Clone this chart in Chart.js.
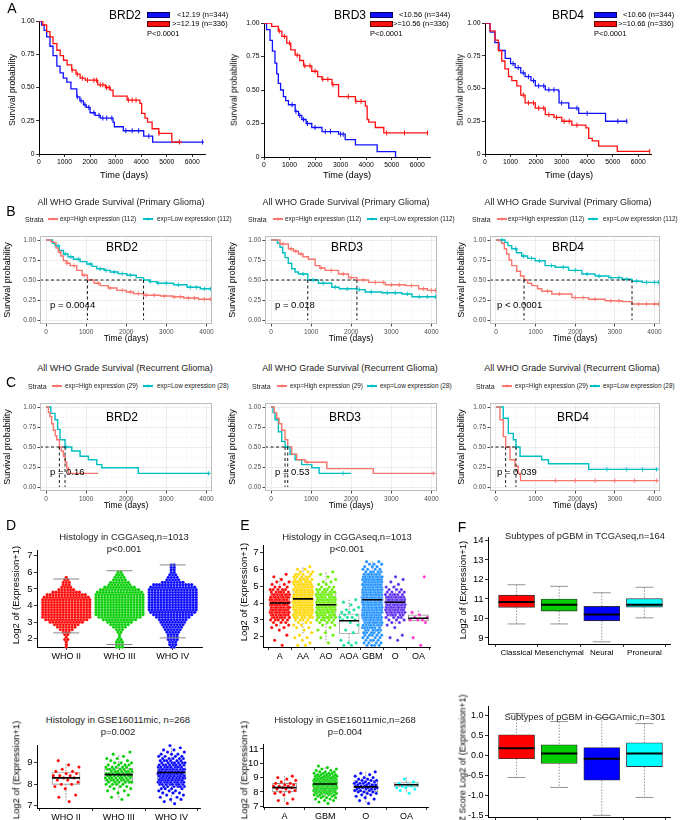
<!DOCTYPE html>
<html><head><meta charset="utf-8">
<script src="https://cdn.jsdelivr.net/npm/chart.js@4.4.1/dist/chart.umd.min.js"></script>
<style>
body{margin:0;background:#fff;width:683px;height:820px;overflow:hidden;font-family:'Liberation Sans',Arial,Helvetica,sans-serif;}
#root{position:relative;width:683px;height:820px;overflow:hidden;}
.t{position:absolute;white-space:nowrap;line-height:1;color:#000;}
canvas{position:absolute;}
</style></head><body><div id="root"></div>
<script>
// ===================== DATA =====================
// ---- Row A : survival (two expression groups) ----
const A_GENES = ['BRD2','BRD3','BRD4'];
const A_LEG_LOW = ['<12.19 (n=344)','<10.56 (n=344)','<10.66 (n=344)'];
const A_LEG_HIGH = ['>=12.19 (n=336)','>=10.56 (n=336)','>=10.66 (n=336)'];
const A_PVAL = ['P<0.0001','P<0.0001','P<0.0001'];
const A_TIME_TICKS = [0,1000,2000,3000,4000,5000,6000];
const A_SURV_TICKS = [0,0.25,0.5,0.75,1];
const A_SURV_LABELS = ['0','0.25','0.50','0.75','1.00'];
// [time, survival]
const A_BRD2_LOW = [[0,1],[100,0.97],[200,0.93],[300,0.88],[430,0.81],[550,0.74],[700,0.66],[825,0.61],[950,0.57],[1090,0.54],[1250,0.49],[1480,0.43],[1600,0.40],[1740,0.37],[1850,0.35],[2000,0.31],[2200,0.29],[2400,0.27],[2900,0.24],[2950,0.205],[3300,0.175],[4100,0.135],[4450,0.09],[6450,0.09]];
const A_BRD2_HIGH = [[0,1],[150,0.97],[300,0.92],[430,0.88],[550,0.83],[700,0.78],[830,0.74],[960,0.705],[1100,0.67],[1280,0.63],[1450,0.60],[1610,0.57],[1810,0.555],[2300,0.52],[2600,0.50],[2790,0.48],[2900,0.435],[3450,0.405],[3950,0.38],[4020,0.305],[4150,0.27],[4250,0.24],[4430,0.19],[4690,0.155],[5200,0.09],[5600,0.09]];
const A_BRD3_LOW = [[0,1],[100,0.95],[236,0.87],[330,0.79],[430,0.70],[500,0.62],[560,0.55],[650,0.50],[760,0.45],[850,0.42],[957,0.39],[1220,0.34],[1350,0.31],[1480,0.28],[1650,0.25],[1870,0.22],[2270,0.19],[2920,0.17],[3180,0.13],[3580,0.09],[4430,0.04],[5150,0],[5180,0]];
const A_BRD3_HIGH = [[0,1],[300,0.975],[560,0.94],[700,0.90],[890,0.85],[1050,0.80],[1220,0.76],[1400,0.72],[1550,0.68],[1870,0.64],[2100,0.60],[2270,0.58],[2660,0.54],[2920,0.45],[3580,0.415],[3970,0.38],[4040,0.28],[4100,0.26],[4360,0.22],[4690,0.18],[6430,0.18]];
const A_BRD4_LOW = [[0,1],[200,0.93],[390,0.85],[550,0.79],[790,0.73],[1000,0.69],[1180,0.66],[1400,0.62],[1570,0.59],[1800,0.56],[1970,0.52],[2360,0.49],[2880,0.48],[2900,0.39],[3280,0.35],[3670,0.31],[4720,0.25],[5570,0.25]];
const A_BRD4_HIGH = [[0,1],[200,0.94],[390,0.87],[520,0.79],[655,0.71],[780,0.65],[920,0.59],[1050,0.56],[1245,0.52],[1400,0.45],[1570,0.39],[1970,0.35],[2360,0.30],[2700,0.28],[3010,0.25],[3400,0.22],[3950,0.20],[4060,0.12],[4200,0.10],[4450,0.06],[5180,0.02],[6460,0.02]];
const A_BRD2_LOW_CENS = [1500,1650,1800,1950,2150,2350,2500,2650,2850,3400,3650,3900,4300,6400];
const A_BRD2_HIGH_CENS = [1300,1500,1700,1900,2150,2250,2400,2500,2650,2750,3500,3650,3800,4700,5500];
const A_BRD3_LOW_CENS = [1100,1250,1400,1550,1700,2000,2400,2600,3000,3100];
const A_BRD3_HIGH_CENS = [600,800,1000,1300,1600,1800,2000,2300,2500,2700,3300,3600,3800,4800,5500,6400];
const A_BRD4_LOW_CENS = [1100,1300,1500,1700,1900,2100,2300,2500,2700,3000,3600,4000,5200,5550];
const A_BRD4_HIGH_CENS = [1500,1700,1900,2100,2300,2500,2800,3100,3300,3600,6450];

// ---- Rows B / C : survival (ggsurvplot) ----
const KM_TIME_TICKS = [0,500,1000,1500,2000,2500,3000,3500,4000];
const KM_TIME_LABELS = ['0','','1000','','2000','','3000','','4000'];
const KM_SURV_TICKS = [0,0.125,0.25,0.375,0.5,0.625,0.75,0.875,1];
const KM_SURV_LABELS = ['0.00','','0.25','','0.50','','0.75','','1.00'];
const B_TITLE = 'All WHO Grade Survival (Primary Glioma)';
const C_TITLE = 'All WHO Grade Survival (Recurrent Glioma)';
const B_LEG = ['exp=High expression (112)','exp=Low expression (112)'];
const C_LEG = ['exp=High expression (29)','exp=Low expression (28)'];
const B_PVAL = ['p = 0.0044','p = 0.018','p < 0.0001'];
const C_PVAL = ['p = 0.16','p = 0.53','p = 0.039'];
const B_BRD2_HIGH = [[0,1],[60,1],[120,0.98],[183,0.97],[250,0.90],[308,0.85],[370,0.80],[433,0.74],[520,0.71],[600,0.68],[767,0.62],[900,0.56],[1033,0.50],[1200,0.46],[1350,0.43],[1550,0.40],[1767,0.37],[2000,0.35],[2183,0.33],[2433,0.31],[2850,0.30],[3150,0.29],[3433,0.275],[3800,0.26],[4150,0.25]];
const B_BRD2_LOW = [[0,1],[100,1],[160,0.96],[225,0.93],[330,0.87],[433,0.825],[550,0.79],[683,0.76],[850,0.73],[1017,0.70],[1150,0.67],[1267,0.64],[1450,0.62],[1600,0.60],[1800,0.58],[2017,0.56],[2250,0.53],[2433,0.50],[2600,0.48],[2767,0.46],[3183,0.44],[3517,0.41],[3850,0.39],[4150,0.39]];
const B_BRD3_HIGH = [[0,1],[100,1],[225,0.95],[433,0.89],[560,0.86],[683,0.825],[800,0.79],[933,0.76],[1100,0.68],[1220,0.65],[1350,0.62],[1683,0.575],[1933,0.53],[2142,0.50],[2433,0.47],[2850,0.44],[3350,0.43],[3683,0.39],[3900,0.37],[4150,0.36]];
const B_BRD3_LOW = [[0,1],[100,1],[160,0.96],[225,0.91],[290,0.84],[350,0.78],[430,0.71],[517,0.64],[600,0.60],[683,0.575],[917,0.50],[1183,0.46],[1517,0.41],[1700,0.39],[2142,0.38],[2350,0.35],[2767,0.34],[3267,0.325],[3517,0.29],[4150,0.285]];
const B_BRD4_HIGH = [[0,1],[80,0.99],[143,0.96],[210,0.89],[270,0.825],[330,0.75],[397,0.68],[523,0.61],[620,0.55],[709,0.50],[800,0.46],[903,0.43],[1050,0.39],[1156,0.36],[1409,0.325],[1916,0.28],[2338,0.26],[2760,0.24],[3181,0.23],[3434,0.20],[4127,0.20]];
const B_BRD4_LOW = [[0,1],[228,0.97],[300,0.93],[397,0.89],[520,0.84],[650,0.80],[800,0.77],[987,0.74],[1240,0.68],[1494,0.66],[1831,0.62],[2169,0.575],[2506,0.55],[2844,0.53],[3181,0.51],[3434,0.485],[3688,0.47],[4127,0.46]];
const B_MEDIANS = [[1033,2433],[2142,917],[709,3434]]; // [high, low]
const B_BRD2_HIGH_CENS = [350,520,700,950,1300,1600,1900,2100,2300,2500,2700,2950,3200,3350,3550,3700,3950,4100];
const B_BRD2_LOW_CENS = [300,480,620,800,1100,1350,1500,1700,1900,2100,2600,2800,3000,3300,3600,3750,3950,4100];
const B_BRD3_HIGH_CENS = [300,500,620,750,1250,1500,1800,2000,2300,2600,2800,3000,3200,3500,3800,4000,4100];
const B_BRD3_LOW_CENS = [800,1050,1300,1600,1900,2200,2500,2900,3100,3400,3700,3900,4100];
const B_BRD4_HIGH_CENS = [1300,1600,2000,2200,2500,2900,3100,3600,3800,4000,4100];
const B_BRD4_LOW_CENS = [150,500,700,900,1100,1400,1700,2000,2300,2600,2900,3100,3300,3550,3800,4000,4100];
const C_BRD2_HIGH = [[0,1],[17,1],[60,0.93],[100,0.88],[140,0.79],[183,0.71],[230,0.64],[267,0.59],[333,0.50],[380,0.45],[433,0.385],[480,0.31],[517,0.24],[560,0.17],[1300,0.17]];
const C_BRD2_LOW = [[0,1],[58,1],[120,0.92],[225,0.84],[290,0.72],[350,0.59],[475,0.50],[642,0.45],[850,0.385],[1058,0.34],[1267,0.28],[1392,0.24],[2267,0.24],[2300,0.17],[4100,0.17]];
const C_BRD3_HIGH = [[0,1],[17,1],[80,0.93],[142,0.86],[200,0.79],[267,0.71],[350,0.59],[417,0.50],[517,0.41],[642,0.34],[850,0.31],[1350,0.31],[1392,0.23],[2517,0.23],[2550,0.17],[4100,0.17]];
const C_BRD3_LOW = [[0,1],[50,0.93],[100,0.84],[183,0.69],[267,0.57],[350,0.50],[475,0.41],[600,0.34],[767,0.28],[1017,0.24],[1183,0.24],[1200,0.17],[2000,0.17]];
const C_BRD4_HIGH = [[0,1],[17,1],[101,0.84],[186,0.63],[245,0.50],[354,0.34],[481,0.26],[560,0.17],[620,0.08],[4100,0.08]];
const C_BRD4_LOW = [[0,1],[59,1],[186,0.86],[312,0.67],[439,0.59],[506,0.50],[608,0.385],[987,0.385],[1156,0.34],[1325,0.29],[2295,0.29],[2340,0.22],[4100,0.22]];
const C_MEDIANS = [[333,475],[417,350],[245,506]];
const C_BRD2_HIGH_CENS = [];
const C_BRD2_LOW_CENS = [500,4050];
const C_BRD3_HIGH_CENS = [900,4050];
const C_BRD3_LOW_CENS = [420,1800];
const C_BRD4_HIGH_CENS = [1500,2000,2500,3000,3500,4050];
const C_BRD4_LOW_CENS = [520,2800,3300,3700,4050];

// ---- Row D/E/F top: CGGAseq / TCGAseq ----
const D1_GROUPS = ['WHO II','WHO III','WHO IV'];
const D1_BIN_START = 1.5, D1_BIN_STEP = 0.15;
const D1_COUNTS_II  = [1,1,1,2,1,2,3,5,7,9,12,15,17,17,17,17,17,17,17,17,16,14,10,6,4,3,3,2,1];
const D1_COUNTS_III = [3,3,3,2,1,1,2,3,5,7,9,12,15,17,17,17,17,17,17,17,17,17,16,14,11,8,7,5,4,3,2];
const D1_COUNTS_IV  = [2,3,3,4,4,4,5,6,7,8,9,10,12,14,16,17,17,17,17,17,17,17,17,17,16,14,8,5,4,3,2,2,2,2];
const D1_WHISK_LO = [2.35,1.65,2.05];
const D1_WHISK_HI = [5.6,6.1,6.45];
const DE1_Y_TICKS = [2,3,4,5,6,7];

const E1_GROUPS = ['A','AA','AO','AOA','GBM','O','OA'];
const E1_BIN_START = 1.5, E1_BIN_STEP = 0.15;
const E1_COUNTS_A   = [1,0,1,0,1,0,1,2,2,3,5,7,9,10,11,11,11,11,10,9,8,6,5,3,2,2,1,1,1,0,0,0,0,0];
const E1_COUNTS_AA  = [2,1,1,2,1,1,1,2,2,3,4,6,8,10,12,13,14,14,14,13,12,11,10,9,8,7,6,5,4,3,2,1,0,0];
const E1_COUNTS_AO  = [0,1,0,1,1,1,1,1,2,3,5,6,7,8,8,8,8,8,8,7,7,6,5,3,2,2,1,1,1,1,0,0,0,0];
const E1_COUNTS_AOA = [2,2,1,0,0,1,1,0,1,1,2,3,2,2,2,1,1,1,1,0,0,0,0,0,0,0,0,0,0,0,0,0,0,0];
const E1_COUNTS_GBM = [4,4,4,4,5,5,6,7,8,9,11,13,15,17,19,20,21,22,22,22,22,21,20,19,18,16,13,10,7,5,4,3,3,2];
const E1_COUNTS_O   = [0,0,1,1,1,0,0,1,1,2,3,4,6,8,10,11,11,10,9,8,6,4,3,2,1,1,1,1,0,0,0,0,0,0];
const E1_COUNTS_OA  = [1,0,0,1,0,0,0,0,0,1,3,2,1,1,0,0,0,0,0,0,0,0,0,0,0,0,0,1,0,0,0,0,0,0];
const E1_LO  = [2.5,2.2,1.7,1.55,1.6,2.75,2.95];
const E1_Q1  = [3.6,3.7,3.15,2.2,3.5,3.75,2.95];
const E1_MED = [4.0,4.25,3.9,2.95,4.2,4.05,3.1];
const E1_Q3  = [4.55,4.75,4.6,3.35,5.0,4.4,3.3];
const E1_HI  = [5.5,6.1,5.8,4.2,6.45,5.05,3.55];

const F_GROUPS = ['Classical','Mesenchymal','Neural','Proneural'];
const F1_LO  = [9.72,9.72,8.8,10.03];
const F1_Q1  = [10.57,10.38,9.88,10.58];
const F1_MED = [10.85,10.7,10.2,10.7];
const F1_Q3  = [11.2,11.0,10.62,11.02];
const F1_HI  = [11.73,11.65,11.32,11.6];
const F1_Y_TICKS = [9,10,11,12,13,14];

// ---- Row D/E/F bottom: GSE16011 / CGGAmic ----
const D2_BIN_START = 7.0, D2_BIN_STEP = 0.1;
const D2_COUNTS_II  = [0,0,1,0,1,1,0,0,1,1,2,1,2,2,3,2,2,1,1,1,0,1,0,0,0,0,0,0,0];
const D2_COUNTS_III = [0,0,0,1,1,1,1,2,2,3,4,6,7,8,8,8,7,6,5,4,3,2,2,1,1,1,0,0,0];
const D2_COUNTS_IV  = [0,1,1,2,2,2,3,3,4,6,8,10,12,13,14,14,13,12,10,8,7,6,5,4,3,2,2,1,1];
const D2_LO  = [7.25,7.3,7.1];
const D2_Q1  = [8.0,8.15,8.2];
const D2_MED = [8.3,8.45,8.55];
const D2_Q3  = [8.55,8.75,8.9];
const D2_HI  = [8.95,9.35,9.7];
const D2_Y_TICKS = [7,8,9];

const E2_GROUPS = ['A','GBM','O','OA'];
const E2_COUNTS_A   = [0,0,1,0,1,1,0,0,1,1,2,1,2,2,3,2,2,1,1,1,1,1,0,0,0,0,0,0,0];
const E2_COUNTS_GBM = [0,0,1,1,2,2,3,3,4,6,8,10,12,13,14,14,13,12,10,8,7,6,5,4,3,2,2,1,1];
const E2_COUNTS_O   = [0,0,1,0,1,1,1,1,2,2,3,3,4,4,5,4,4,3,3,2,2,1,1,1,1,0,0,0,0];
const E2_COUNTS_OA  = [0,0,0,0,0,0,0,0,0,1,0,1,1,2,2,2,1,1,0,1,0,0,0,0,0,0,0,0,0];
const E2_LO  = [7.3,7.4,7.2,7.9];
const E2_Q1  = [8.0,8.2,8.0,8.35];
const E2_MED = [8.3,8.55,8.35,8.5];
const E2_Q3  = [8.6,8.9,8.8,8.65];
const E2_HI  = [9.1,9.7,9.4,9.0];
const E2_Y_TICKS = [7,8,9,10,11];

const F2_LO  = [-0.55,-0.8,-1.5,-1.05];
const F2_Q1  = [-0.08,-0.2,-0.62,-0.28];
const F2_MED = [0.18,0.05,-0.08,0.05];
const F2_Q3  = [0.52,0.27,0.2,0.32];
const F2_HI  = [1.05,0.85,0.95,0.8];
const F2_Y_TICKS = [-1.5,-1,-0.5,0,0.5,1];
const F2_Y_LABELS = ['-1.5','-1.0','-0.5','0.0','0.5','1.0'];

// ===================== DRAWING =====================
const FF = "'Liberation Sans', Arial, Helvetica, sans-serif";
Chart.defaults.font.family = FF;
const root = document.getElementById('root');

function T(x, y, s, o) {
  o = o || {};
  const d = document.createElement('div');
  d.className = 't'; d.textContent = s;
  d.style.fontSize = (o.size || 9) + 'px';
  d.style.left = x + 'px'; d.style.top = y + 'px';
  if (o.color) d.style.color = o.color;
  if (o.weight) d.style.fontWeight = o.weight;
  const ax = o.a === 'l' ? '0' : (o.a === 'r' ? '-100%' : '-50%');
  d.style.transform = 'translate(' + ax + ',-50%)' + (o.rot ? ' rotate(' + o.rot + 'deg)' : '');
  root.appendChild(d);
  return d;
}
function R(x, y, w, h, bg, border) {
  const d = document.createElement('div');
  d.style.cssText = 'position:absolute;left:' + x + 'px;top:' + y + 'px;width:' + w + 'px;height:' + h + 'px;background:' + bg + ';' + (border ? 'border:1px solid ' + border + ';box-sizing:border-box;' : '');
  root.appendChild(d);
}

function mkChart(b, datasets, xs, ys, plugins) {
  const pad = {l: 3, r: 10, t: 6, b: 3};
  const cw = b.W + b.yW + pad.l + pad.r, ch = b.H + b.xH + pad.t + pad.b;
  const c = document.createElement('canvas');
  c.width = cw; c.height = ch;
  c.style.left = (b.L - b.yW - pad.l) + 'px'; c.style.top = (b.T - pad.t) + 'px';
  c.style.width = cw + 'px'; c.style.height = ch + 'px';
  root.appendChild(c);
  xs.afterFit = s => { s.height = b.xH; s.paddingLeft = 0; s.paddingRight = 0; };
  ys.afterFit = s => { s.width = b.yW; s.paddingTop = 0; s.paddingBottom = 0; };
  return new Chart(c, {
    type: 'scatter', data: {datasets},
    options: {responsive: false, maintainAspectRatio: false, animation: false, devicePixelRatio: 1, events: [],
      layout: {padding: {left: pad.l, right: pad.r, top: pad.t, bottom: pad.b}},
      plugins: {legend: {display: false}, tooltip: {enabled: false}, title: {display: false}},
      scales: {x: xs, y: ys}},
    plugins: plugins || []
  });
}
const frame = col => ({id: 'frame', afterDraw(ch) {
  const a = ch.chartArea, c = ch.ctx; c.save(); c.strokeStyle = col; c.lineWidth = 1;
  c.strokeRect(Math.round(a.left) + 0.5, Math.round(a.top) + 0.5, Math.round(a.right - a.left) - 1, Math.round(a.bottom - a.top) - 1); c.restore(); }});

function survAt(c, t) { let s = c[0][1]; for (const p of c) { if (p[0] <= t) s = p[1]; else break; } return s; }
const pts = c => c.map(p => ({x: p[0], y: p[1]}));

// ---------- axes ----------
function plainAxis(vals, labels, min, max, size, horiz) {
  return {type: 'linear', min, max, offset: false,
    afterBuildTicks: s => { s.ticks = vals.map(v => ({value: v})); },
    ticks: {autoSkip: false, maxRotation: 0, minRotation: 0, font: {size, family: FF}, color: '#000', padding: horiz ? 1 : 1.5,
      callback: (v, i) => labels[i]},
    grid: {display: true, drawOnChartArea: false, drawTicks: true, tickLength: 3, color: '#000', lineWidth: 0.8},
    border: {display: true, color: '#000', width: 1}};
}
function ggAxis(vals, labels, min, max) {
  const major = ctx => { const i = vals.indexOf(ctx.tick ? ctx.tick.value : NaN); return i >= 0 && labels[i] !== ''; };
  return {type: 'linear', min, max, offset: false,
    afterBuildTicks: s => { s.ticks = vals.map(v => ({value: v})); },
    ticks: {autoSkip: false, maxRotation: 0, minRotation: 0, font: {size: 6.5, family: FF}, color: '#4D4D4D', padding: 1.5,
      callback: (v, i) => labels[i]},
    grid: {display: true, drawTicks: true, tickLength: 2.5,
      color: ctx => major(ctx) ? '#EBEBEB' : '#F5F5F5',
      lineWidth: ctx => major(ctx) ? 0.9 : 0.6,
      tickColor: ctx => major(ctx) ? '#333333' : 'rgba(0,0,0,0)'},
    border: {display: false}};
}

// ---------- Row A ----------
const A_BLUE = '#1010FF', A_RED = '#FF1010';
const A_PANELS = [
  {L: 39, T: 21, H: 133, low: A_BRD2_LOW, high: A_BRD2_HIGH, lc: A_BRD2_LOW_CENS, hc: A_BRD2_HIGH_CENS, title: [125, 15], box: 147, tl: 177, th: 172, ylab: 12, xlab: 124},
  {L: 264, T: 23, H: 134, low: A_BRD3_LOW, high: A_BRD3_HIGH, lc: A_BRD3_LOW_CENS, hc: A_BRD3_HIGH_CENS, title: [350, 15], box: 370, tl: 399, th: 393, ylab: 234, xlab: 347},
  {L: 485, T: 23, H: 131, low: A_BRD4_LOW, high: A_BRD4_HIGH, lc: A_BRD4_LOW_CENS, hc: A_BRD4_HIGH_CENS, title: [568, 15], box: 594, tl: 623, th: 618, ylab: 460, xlab: 569}
];
A_PANELS.forEach((p, k) => {
  const ds = [
    {type: 'line', data: pts(p.low), stepped: 'before', borderColor: A_BLUE, borderWidth: 1.3, pointRadius: 0, order: 2},
    {type: 'line', data: pts(p.high), stepped: 'before', borderColor: A_RED, borderWidth: 1.3, pointRadius: 0, order: 1},
    {type: 'scatter', data: p.lc.map(t => ({x: t, y: survAt(p.low, t)})), pointStyle: 'line', rotation: 90, pointRadius: 2.5, borderColor: A_BLUE, borderWidth: 1, order: 0},
    {type: 'scatter', data: p.hc.map(t => ({x: t, y: survAt(p.high, t)})), pointStyle: 'line', rotation: 90, pointRadius: 2.5, borderColor: A_RED, borderWidth: 1, order: 0}
  ];
  mkChart({L: p.L, T: p.T, W: 166, H: p.H, yW: 24, xH: 14}, ds,
    plainAxis(A_TIME_TICKS, A_TIME_TICKS.map(String), 0, 6500, 6.8, true),
    plainAxis(A_SURV_TICKS, A_SURV_LABELS, 0, 1, 6.8, false));
  T(p.title[0], p.title[1], A_GENES[k], {size: 12});
  R(p.box, 12, 23, 6, A_BLUE, '#000066');
  R(p.box, 21, 23, 6, A_RED, '#660000');
  T(p.tl, 15, A_LEG_LOW[k], {size: 7.5, a: 'l'});
  T(p.th, 24, A_LEG_HIGH[k], {size: 7.5, a: 'l'});
  T(p.box, 33.5, A_PVAL[k], {size: 7.5, a: 'l'});
  T(p.ylab, 90, 'Survival probability', {size: 8.6, rot: -90});
  T(p.xlab, 175.5, 'Time (days)', {size: 9.2});
});
T(12, 8, 'A', {size: 14});

// ---------- Rows B / C ----------
const GG_RED = '#F8766D', GG_CYAN = '#00BFC4';
const KM_XMIN = -150, KM_XMAX = 4140;
function ggKM(L, top, W, hi, lo, hiC, loC, meds) {
  const dash = {type: 'line', borderColor: '#000', borderWidth: 0.9, borderDash: [3, 2.5], pointRadius: 0, order: 0};
  const mMax = Math.max(meds[0], meds[1]);
  const ds = [
    {type: 'line', data: pts(lo), stepped: 'before', borderColor: GG_CYAN, borderWidth: 1.4, pointRadius: 0, order: 4},
    {type: 'line', data: pts(hi), stepped: 'before', borderColor: GG_RED, borderWidth: 1.4, pointRadius: 0, order: 3},
    {type: 'scatter', data: loC.map(t => ({x: t, y: survAt(lo, t)})), pointStyle: 'cross', pointRadius: 2.2, borderColor: GG_CYAN, borderWidth: 0.9, order: 2},
    {type: 'scatter', data: hiC.map(t => ({x: t, y: survAt(hi, t)})), pointStyle: 'cross', pointRadius: 2.2, borderColor: GG_RED, borderWidth: 0.9, order: 2},
    Object.assign({data: [{x: KM_XMIN, y: 0.5}, {x: mMax, y: 0.5}]}, dash),
    Object.assign({data: [{x: meds[0], y: 0.5}, {x: meds[0], y: 0}]}, dash),
    Object.assign({data: [{x: meds[1], y: 0.5}, {x: meds[1], y: 0}]}, dash)
  ];
  mkChart({L, T: top, W, H: 88, yW: 22, xH: 12}, ds,
    ggAxis(KM_TIME_TICKS, KM_TIME_LABELS, KM_XMIN, KM_XMAX),
    ggAxis(KM_SURV_TICKS, KM_SURV_LABELS, -0.05, 1.05), [frame('#BDBDBD')]);
}
function ggLegend(y, sx, rx, rtx, cx, ctx, texts) {
  T(sx, y, 'Strata', {size: 7, a: 'l', color: '#222'});
  R(rx, y - 0.6, 10, 1.3, GG_RED); T(rx + 5, y, '+', {size: 7, color: GG_RED});
  T(rtx, y, texts[0], {size: 6.4, a: 'l', color: '#222'});
  R(cx, y - 0.6, 10, 1.3, GG_CYAN); T(cx + 5, y, '+', {size: 7, color: GG_CYAN});
  T(ctx, y, texts[1], {size: 6.4, a: 'l', color: '#222'});
}
const B_PANELS = [
  {L: 40, W: 172, hi: B_BRD2_HIGH, lo: B_BRD2_LOW, hc: B_BRD2_HIGH_CENS, lc: B_BRD2_LOW_CENS, tx: 121, leg: [25, 48, 60, 143, 157], g: [122, 247], p: 50, yl: 7, xl: 126},
  {L: 265, W: 172, hi: B_BRD3_HIGH, lo: B_BRD3_LOW, hc: B_BRD3_HIGH_CENS, lc: B_BRD3_LOW_CENS, tx: 346, leg: [248, 273, 285, 367, 380], g: [347, 247], p: 275, yl: 232, xl: 351},
  {L: 490, W: 170, hi: B_BRD4_HIGH, lo: B_BRD4_LOW, hc: B_BRD4_HIGH_CENS, lc: B_BRD4_LOW_CENS, tx: 568, leg: [472, 497, 508, 588, 603], g: [568, 247], p: 497, yl: 461, xl: 575}
];
B_PANELS.forEach((p, k) => {
  ggKM(p.L, 236, p.W, p.hi, p.lo, p.hc, p.lc, B_MEDIANS[k]);
  T(p.tx, 202, B_TITLE, {size: 9, color: '#222'});
  ggLegend(219, p.leg[0], p.leg[1], p.leg[2], p.leg[3], p.leg[4], B_LEG);
  T(p.g[0], p.g[1], A_GENES[k], {size: 12});
  T(p.p, 305, B_PVAL[k], {size: 9.5, a: 'l'});
  T(p.yl, 280, 'Survival probability', {size: 9, rot: -90});
  T(p.xl, 338, 'Time (days)', {size: 8.5});
});
T(11, 211, 'B', {size: 14});
const C_PANELS = [
  {L: 40, W: 172, hi: C_BRD2_HIGH, lo: C_BRD2_LOW, hc: C_BRD2_HIGH_CENS, lc: C_BRD2_LOW_CENS, tx: 125, leg: [28, 52, 65, 143, 157], g: [122, 417], p: 50, yl: 7, xl: 126},
  {L: 265, W: 172, hi: C_BRD3_HIGH, lo: C_BRD3_LOW, hc: C_BRD3_HIGH_CENS, lc: C_BRD3_LOW_CENS, tx: 350, leg: [252, 277, 290, 367, 380], g: [345, 417], p: 275, yl: 232, xl: 351},
  {L: 490, W: 170, hi: C_BRD4_HIGH, lo: C_BRD4_LOW, hc: C_BRD4_HIGH_CENS, lc: C_BRD4_LOW_CENS, tx: 572, leg: [476, 502, 515, 590, 603], g: [573, 417], p: 497, yl: 461, xl: 575}
];
C_PANELS.forEach((p, k) => {
  ggKM(p.L, 403, p.W, p.hi, p.lo, p.hc, p.lc, C_MEDIANS[k]);
  T(p.tx, 368, C_TITLE, {size: 9, color: '#222'});
  ggLegend(386, p.leg[0], p.leg[1], p.leg[2], p.leg[3], p.leg[4], C_LEG);
  T(p.g[0], p.g[1], A_GENES[k], {size: 12});
  T(p.p, 472, C_PVAL[k], {size: 9.5, a: 'l'});
  T(p.yl, 447, 'Survival probability', {size: 9, rot: -90});
  T(p.xl, 505, 'Time (days)', {size: 8.5});
});
T(11, 382, 'C', {size: 14});

// ---------- D / E / F helpers ----------
function swarm(counts, start, step, gi, dx) {
  const out = [];
  counts.forEach((n, k) => { for (let j = 0; j < n; j++) out.push({x: gi + (j - (n - 1) / 2) * dx, y: +(start + k * step).toFixed(3)}); });
  return out;
}
function jitter(counts, start, step, gi, w) {
  const out = []; let k = 0;
  counts.forEach((n, b) => { for (let j = 0; j < n; j++) { const f = ((k + 1) * 0.6180339887) % 1; out.push({x: gi + (f - 0.5) * w, y: +(start + b * step).toFixed(3)}); k++; } });
  return out;
}
function boxSets(lo, q1, med, q3, hi, o) {
  const wh = [];
  lo.forEach((v, i) => { wh.push({x: i, y: hi[i]}, {x: i, y: q3[i]}, {x: i, y: null}, {x: i, y: q1[i]}, {x: i, y: lo[i]}, {x: i, y: null}); });
  const sets = [
    {type: 'line', data: wh, borderColor: o.whiskColor || '#777', borderWidth: 0.9, borderDash: o.whiskDash || [1.5, 1.5], pointRadius: 0, spanGaps: false, order: 9},
    {type: 'bar', data: q1.map((v, i) => ({x: i, y: [q1[i], q3[i]]})), backgroundColor: o.fill, borderColor: o.stroke || '#555', borderWidth: 0.9, borderSkipped: false, barThickness: o.boxPx, order: 8},
    {type: 'scatter', data: med.map((v, i) => ({x: i, y: v})), pointStyle: 'line', pointRadius: o.boxPx / 2, borderColor: '#000', borderWidth: o.medW || 1.6, order: 0}
  ];
  if (o.capPx) sets.push({type: 'scatter', data: lo.map((v, i) => ({x: i, y: v})).concat(hi.map((v, i) => ({x: i, y: v}))), pointStyle: 'line', pointRadius: o.capPx / 2, borderColor: o.whiskColor || '#777', borderWidth: 0.9, order: 7});
  return sets;
}
function ptsSet(data, color, r) {
  return {type: 'scatter', data, pointRadius: r, backgroundColor: color, borderColor: 'rgba(255,255,255,0.55)', borderWidth: 0.4, clip: false, order: 3};
}

// ---------- D1 (beeswarm) ----------
{
  const b = {L: 37, T: 542, W: 169, H: 105, yW: 22, xH: 14};
  const pxUnit = b.W / 3.1, dx = 3 / pxUnit;
  const cols = ['#FF0000', '#00CC00', '#0000FF'];
  const cnt = [D1_COUNTS_II, D1_COUNTS_III, D1_COUNTS_IV];
  const ds = cnt.map((c, i) => ptsSet(swarm(c, D1_BIN_START, D1_BIN_STEP, i, dx), cols[i], 1.7));
  ds.push({type: 'scatter', data: D1_WHISK_LO.map((v, i) => ({x: i, y: v})).concat(D1_WHISK_HI.map((v, i) => ({x: i, y: v}))), pointStyle: 'line', pointRadius: 13, borderColor: '#888', borderWidth: 1, order: 1});
  mkChart(b, ds, plainAxis([0, 1, 2], D1_GROUPS, -0.55, 2.55, 9, true), plainAxis(DE1_Y_TICKS, DE1_Y_TICKS.map(String), 1.5, 7.35, 9.5, false));
  T(124, 537, 'Histology in CGGAseq,n=1013', {size: 9.5, color: '#222'});
  T(124, 548.5, 'p<0.001', {size: 9.5, color: '#222'});
  T(16, 595, 'Log2 of (Expression+1)', {size: 9.5, rot: -90});
  T(11, 525, 'D', {size: 14});
}
// ---------- E1 (box + jitter) ----------
{
  const b = {L: 263, T: 540, W: 169, H: 107, yW: 20, xH: 14};
  const pxUnit = b.W / 7.25;
  const cols = ['#FF0000', '#FFD700', '#66EE00', '#19E0A0', '#1E90FF', '#5B2CF0', '#FF33CC'];
  const cnt = [E1_COUNTS_A, E1_COUNTS_AA, E1_COUNTS_AO, E1_COUNTS_AOA, E1_COUNTS_GBM, E1_COUNTS_O, E1_COUNTS_OA];
  const ds = boxSets(E1_LO, E1_Q1, E1_MED, E1_Q3, E1_HI, {fill: '#FFFFFF', stroke: '#888', boxPx: 20, whiskColor: '#777'});
  cnt.forEach((c, i) => ds.push(ptsSet(jitter(c, E1_BIN_START, E1_BIN_STEP, i, 20 / pxUnit), cols[i], 1.6)));
  mkChart(b, ds, plainAxis([0, 1, 2, 3, 4, 5, 6], E1_GROUPS, -0.73, 6.52, 9, true), plainAxis(DE1_Y_TICKS, DE1_Y_TICKS.map(String), 1.4, 7.4, 9.5, false));
  T(347, 537, 'Histology in CGGAseq,n=1013', {size: 9.5, color: '#222'});
  T(347, 548.5, 'p<0.001', {size: 9.5, color: '#222'});
  T(244, 592, 'Log2 of (Expression+1)', {size: 9.5, rot: -90});
  T(245, 525, 'E', {size: 14});
}
// ---------- F1 (box) ----------
{
  const b = {L: 488, T: 523, W: 192, H: 124, yW: 22, xH: 14};
  const ds = boxSets(F1_LO, F1_Q1, F1_MED, F1_Q3, F1_HI, {fill: ['#FF0000', '#00CC00', '#0000FF', '#00FFFF'], stroke: '#333', boxPx: 36, capPx: 18, whiskColor: '#888', medW: 2});
  mkChart(b, ds, plainAxis([0, 1, 2, 3], F_GROUPS, -0.67, 3.6, 8, true), plainAxis(F1_Y_TICKS, F1_Y_TICKS.map(String), 8.69, 14.18, 9.5, false));
  T(585, 537, 'Subtypes of pGBM in TCGAseq,n=164', {size: 9.3, color: '#222'});
  T(463, 590, 'Log2 of (Expression+1)', {size: 9.5, rot: -90});
  T(462, 527, 'F', {size: 14});
}
// ---------- D2 ----------
{
  const b = {L: 37, T: 736, W: 169, H: 72, yW: 22, xH: 14};
  const pxUnit = b.W / 3.1;
  const cols = ['#FF0000', '#00CC00', '#0000FF'];
  const cnt = [D2_COUNTS_II, D2_COUNTS_III, D2_COUNTS_IV];
  const ds = boxSets(D2_LO, D2_Q1, D2_MED, D2_Q3, D2_HI, {fill: '#FFFFFF', stroke: '#888', boxPx: 28, whiskColor: '#777'});
  cnt.forEach((c, i) => ds.push(ptsSet(jitter(c, D2_BIN_START, D2_BIN_STEP, i, 28 / pxUnit), cols[i], 1.6)));
  mkChart(b, ds, plainAxis([0, 1, 2], D1_GROUPS, -0.55, 2.55, 9, true), plainAxis(D2_Y_TICKS, D2_Y_TICKS.map(String), 6.9, 9.8, 9.5, false));
  T(118, 720, 'Histology in GSE16011mic, n=268', {size: 9.5, color: '#222'});
  T(118, 732, 'p=0.002', {size: 9.5, color: '#222'});
  T(16, 770, 'Log2 of (Expression+1)', {size: 9.5, rot: -90});
}
// ---------- E2 ----------
{
  const b = {L: 263, T: 737, W: 169, H: 70, yW: 20, xH: 14};
  const pxUnit = b.W / 4.07;
  const cols = ['#FF0000', '#00CC00', '#0000FF', '#00FFFF'];
  const cnt = [E2_COUNTS_A, E2_COUNTS_GBM, E2_COUNTS_O, E2_COUNTS_OA];
  const ds = boxSets(E2_LO, E2_Q1, E2_MED, E2_Q3, E2_HI, {fill: '#FFFFFF', stroke: '#888', boxPx: 24, whiskColor: '#777'});
  cnt.forEach((c, i) => ds.push(ptsSet(jitter(c, D2_BIN_START, D2_BIN_STEP, i, 24 / pxUnit), cols[i], 1.6)));
  mkChart(b, ds, plainAxis([0, 1, 2, 3], E2_GROUPS, -0.53, 3.54, 9, true), plainAxis(E2_Y_TICKS, E2_Y_TICKS.map(String), 6.95, 11.3, 9.5, false));
  T(345, 720, 'Histology in GSE16011mic,n=268', {size: 9.5, color: '#222'});
  T(345, 732, 'p=0.004', {size: 9.5, color: '#222'});
  T(244, 770, 'Log2 of (Expression+1)', {size: 9.5, rot: -90});
}
// ---------- F2 ----------
{
  const b = {L: 488, T: 692, W: 192, H: 128, yW: 22, xH: 14};
  const ds = boxSets(F2_LO, F2_Q1, F2_MED, F2_Q3, F2_HI, {fill: ['#FF0000', '#00CC00', '#0000FF', '#00FFFF'], stroke: '#333', boxPx: 36, capPx: 18, whiskColor: '#888', medW: 2});
  mkChart(b, ds, plainAxis([0, 1, 2, 3], F_GROUPS, -0.67, 3.6, 8, true), plainAxis(F2_Y_TICKS, F2_Y_LABELS, -1.54, 1.24, 9, false));
  T(585, 718, 'Subtypes of pGBM in CGGAmic,n=301', {size: 9.3, color: '#222'});
  T(463, 758, 'Z Score Log2 of (Expression+1)', {size: 9, rot: -90});
}
</script></body></html>
